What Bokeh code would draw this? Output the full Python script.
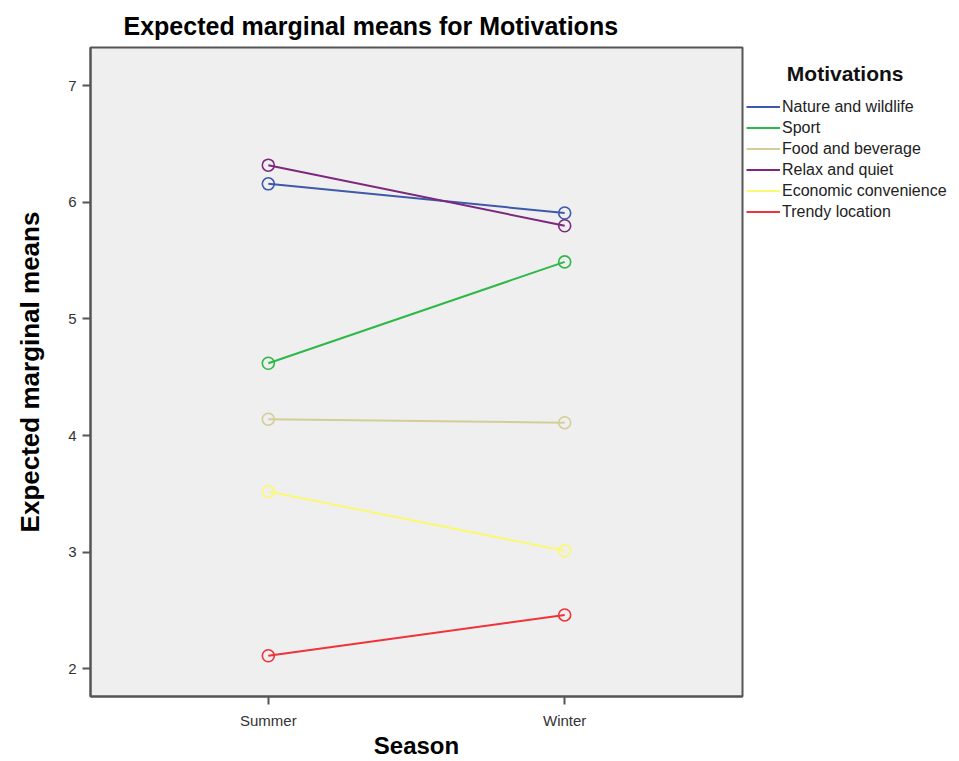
from bokeh.plotting import figure
from bokeh.models import Legend, LegendItem, Range1d, FixedTicker
from bokeh.layouts import row
from bokeh.embed import file_html
from bokeh.resources import INLINE

seasons = ["Summer", "Winter"]
season_pos = [1, 2]
motivations = ["Nature and wildlife", "Sport", "Food and beverage",
               "Relax and quiet", "Economic convenience", "Trendy location"]
nature = [6.16, 5.91]
sport = [4.62, 5.49]
food = [4.14, 4.11]
relax = [6.32, 5.80]
economic = [3.52, 3.01]
trendy = [2.11, 2.46]
series = [nature, sport, food, relax, economic, trendy]
colors = ["#3E58AC", "#2EB848", "#D3CE97", "#7C287D", "#FBF873", "#EF3338"]
y_ticks = [2, 3, 4, 5, 6, 7]

FONT = "Liberation Sans"

p = figure(width=745, height=761, output_backend="svg", toolbar_location=None,
           x_range=Range1d(0.4, 2.6), y_range=Range1d(1.76, 7.33),
           min_border_left=90, min_border_right=3, min_border_top=47,
           min_border_bottom=64)
p.background_fill_color = "#EFEFEF"
p.border_fill_color = "white"
p.outline_line_color = "#555555"
p.outline_line_width = 2
p.xgrid.visible = False
p.ygrid.visible = False

p.title.text = "Expected marginal means for Motivations"
p.title.text_font = FONT
p.title.text_font_size = "25px"
p.title.text_font_style = "bold"
p.title.text_color = "black"
p.title.offset = 33
p.title.standoff = 16

for ax in (p.xaxis[0], p.yaxis[0]):
    ax.axis_line_color = "#555555"
    ax.axis_line_width = 2
    ax.major_tick_line_color = "#555555"
    ax.major_tick_line_width = 2
    ax.major_tick_out = 8
    ax.major_tick_in = 0
    ax.minor_tick_line_color = None
    ax.major_label_text_font = FONT
    ax.major_label_text_font_size = "15px"
    ax.major_label_text_color = "#333333"
    ax.axis_label_text_font = FONT
    ax.axis_label_text_font_style = "bold"
    ax.axis_label_text_color = "black"

p.xaxis.ticker = FixedTicker(ticks=season_pos)
p.xaxis.major_label_overrides = {pos: s for pos, s in zip(season_pos, seasons)}
p.xaxis.axis_label = "Season"
p.xaxis.axis_label_text_font_size = "24px"
p.xaxis.major_label_standoff = 7
p.xaxis.axis_label_standoff = 0
p.yaxis.ticker = FixedTicker(ticks=y_ticks)
p.yaxis.major_label_standoff = 6
p.yaxis.axis_label = "Expected marginal means"
p.yaxis.axis_label_text_font_size = "26px"
p.yaxis.axis_label_standoff = 20

for vals, c in zip(series, colors):
    p.line(season_pos, vals, line_color=c, line_width=2)
    p.scatter(season_pos, vals, marker="circle", size=12, fill_color=None,
              line_color=c, line_width=1.6)

# legend lives in a narrow companion figure to the right of the frame;
# its series are drawn there too but fall outside its (unused) ranges
lf = figure(width=214, height=761, output_backend="svg", toolbar_location=None,
            x_axis_location=None, y_axis_location=None,
            min_border=0, x_range=Range1d(100, 101), y_range=Range1d(100, 101))
lf.outline_line_color = None
lf.background_fill_color = "white"
lf.border_fill_color = "white"
lf.xgrid.visible = False
lf.ygrid.visible = False

items = []
for name, vals, c in zip(motivations, series, colors):
    r = lf.line(season_pos, vals, line_color=c, line_width=2)
    items.append(LegendItem(label=name, renderers=[r]))

legend = Legend(items=items, location=(1, 474), orientation="vertical")
legend.title = "\u00a0" * 7 + "Motivations"
legend.title_text_font = FONT
legend.title_text_font_size = "21px"
legend.title_text_font_style = "bold"
legend.title_text_color = "#111111"
legend.title_standoff = 10
legend.background_fill_alpha = 0
legend.border_line_color = None
legend.label_text_font = FONT
legend.label_text_font_size = "16px"
legend.label_text_color = "#222222"
legend.glyph_width = 34
legend.glyph_height = 21
legend.label_height = 21
legend.label_standoff = 2
legend.spacing = 0
legend.padding = 0
legend.margin = 0
legend.click_policy = "none"
lf.add_layout(legend, "center")

layout = row(p, lf, spacing=0)
open("out.html", "w").write(file_html(layout, INLINE))
